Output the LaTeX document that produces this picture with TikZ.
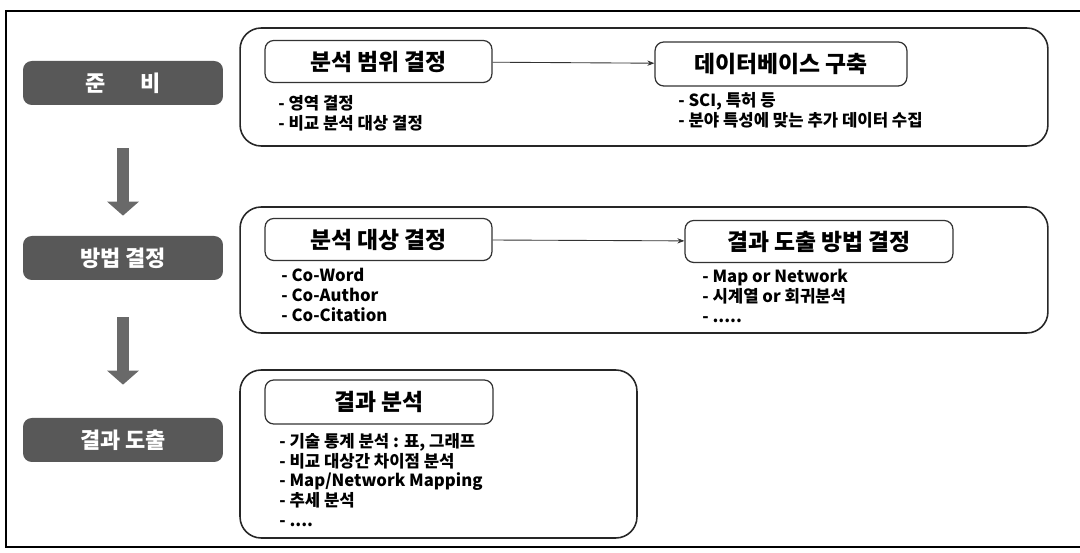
\documentclass[tikz,border=0pt]{standalone}
\usepackage{fontspec}
\setmainfont{Noto Sans CJK KR}
\usepackage{tikz}
\usetikzlibrary{arrows.meta, positioning, calc}

\definecolor{stagegray}{RGB}{88,88,88}
\definecolor{arrowgray}{RGB}{105,105,105}

\begin{document}
\begin{tikzpicture}[
            x=0.02cm, y=-0.02cm,
            stage/.style={rectangle, rounded corners=5pt, fill=stagegray, text=white, font=\bfseries\fontsize{12.5}{14}\selectfont, minimum width=4cm, minimum height=0.88cm},
            panel/.style={rectangle, rounded corners=12pt, draw=black!85, line width=0.9pt},
            titlebox/.style={rectangle, rounded corners=5pt, draw=black!80, line width=0.7pt, font=\bfseries\fontsize{13}{15}\selectfont, minimum height=0.84cm},
            items/.style={anchor=north west, inner sep=0pt, align=left, font=\bfseries\fontsize{9.5}{11.2}\selectfont},
            flow/.style={draw=black!80, line width=0.5pt, -{Stealth[length=4pt, width=3pt]}},
            down/.style={draw=arrowgray, line width=0.24cm, -{Triangle[length=0.28cm, width=0.62cm]}}
        ]

        % --- Frame ---
        \useasboundingbox (0,0) rectangle (1080,553);
        \draw[line width=1pt] (1080,11) -- (6,11) -- (6,547) -- (1080,547);

        % --- Stages ---
        \node[stage] (prep) at (123,83) {준\hspace{1.6em}비};
        \node[stage] (method) at (123,258) {방법 결정};
        \node[stage] (result) at (123,440) {결과 도출};

        \draw[down, shorten <=0.86cm, shorten >=0.40cm] (prep) -- (method);
        \draw[down, shorten <=0.74cm, shorten >=0.66cm] (method) -- (result);

        % --- Panels ---
        \node[panel, minimum width=16.16cm, minimum height=2.36cm] (p_prep) at (644,87) {};
        \node[panel, minimum width=16.16cm, minimum height=2.52cm] (p_method) at (644,270) {};
        \node[panel, minimum width=7.94cm, minimum height=3.36cm] (p_result) at (438.5,454) {};

        % --- Preparation ---
        \node[titlebox, minimum width=4.54cm] (scope) at (378.5,61.5) {분석 범위 결정};
        \node[titlebox, minimum width=5.04cm, minimum height=0.88cm] (db) at (781,64) {데이터베이스 구축};
        \draw[flow] (scope) -- (db);
        \node[items] (scope_list) at (278,95) {- 영역 결정\\- 비교 분석 대상 결정};
        \node[items] (db_list) at (678,92) {- SCI, 특허 등\\- 분야 특성에 맞는 추가 데이터 수집};

        % --- Method ---
        \node[titlebox, minimum width=4.54cm] (target) at (378.5,239.5) {분석 대상 결정};
        \node[titlebox, minimum width=5.36cm] (output) at (819,241.5) {결과 도출 방법 결정};
        \draw[flow] (target) -- (output);
        \node[items] (target_list) at (281,268) {- Co-Word\\- Co-Author\\- Co-Citation};
        \node[items] (output_list) at (702,269) {- Map or Network\\- 시계열 or 회귀분석\\- .....};

        % --- Result ---
        \node[titlebox, minimum width=4.56cm, minimum height=0.88cm] (analysis) at (379,402) {결과 분석};
        \node[items] (analysis_list) at (279,433) {- 기술 통계 분석 : 표, 그래프\\- 비교 대상간 차이점 분석\\- Map/Network Mapping\\- 추세 분석\\- ....};

\end{tikzpicture}
\end{document}
